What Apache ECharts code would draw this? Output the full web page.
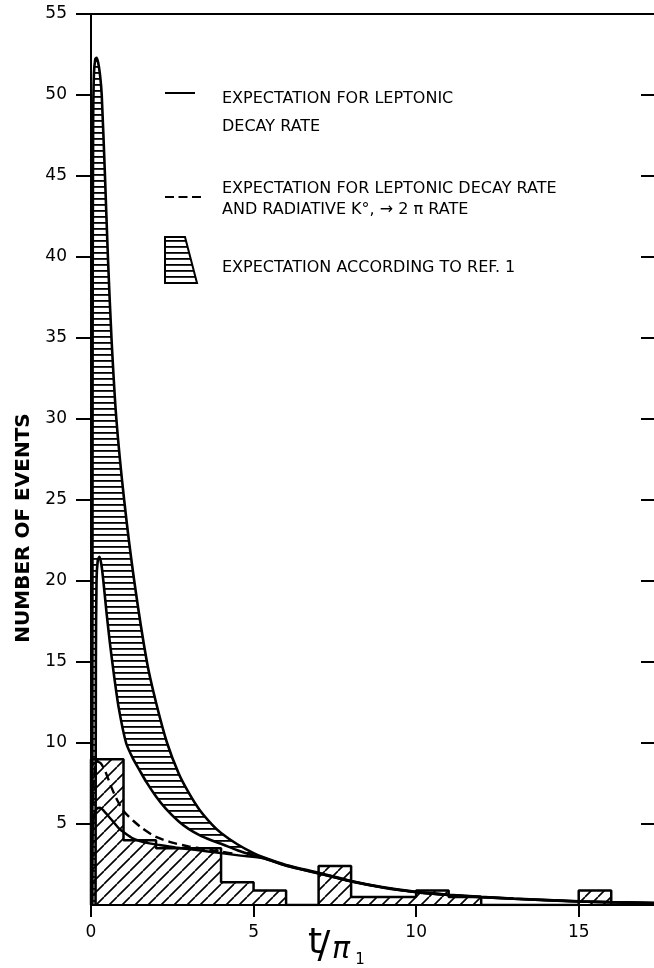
<!DOCTYPE html>
<html><head><meta charset="utf-8">
<script src="https://cdn.jsdelivr.net/npm/echarts@6/dist/echarts.min.js"></script>
<style>html,body{margin:0;padding:0;background:#fff;overflow:hidden;width:654px;height:968px}#c{width:660px;height:968px}</style>
</head><body><div id="c"></div>
<script>
// ---- data ----
const xTicks = [0, 5, 10, 15];
const yTicks = [5, 10, 15, 20, 25, 30, 35, 40, 45, 50, 55];
const yTicksRight = [5, 10, 15, 20, 25, 30, 35, 40, 45, 50];

// observed histogram: bin edges (t/tau1) and heights (number of events)
const histEdges = [0, 1, 2, 4, 5, 6, 7, 8, 10, 11, 12, 15, 16];
const histCounts = [9, 4, 3.5, 1.4, 0.9, 0, 2.4, 0.5, 0.9, 0.5, 0, 0.9];

// expectation for leptonic decay rate (solid)
const leptonicCurve = [[0.03,0],[0.05,4.5],[0.1,5.6],[0.18,5.95],[0.28,6.0],[0.4,5.8],[0.55,5.45],[0.7,5.1],[0.85,4.75],[1.0,4.5],[1.25,4.15],[1.5,3.95],[1.8,3.8],[2.1,3.7],[2.6,3.55],[3.2,3.4],[4.0,3.2],[4.6,3.05],[5.3,2.88],[6,2.42],[7,1.95],[8,1.45],[9,1.07],[10,0.79],[11,0.61],[12,0.48],[13,0.38],[14,0.29],[15,0.21],[16,0.16],[17,0.12],[17.5,0.1]];

// leptonic + radiative K -> 2 pi rate (dashed)
const radiativeCurve = [[0.05,6.3],[0.1,8.0],[0.18,8.85],[0.3,8.75],[0.45,8.2],[0.6,7.4],[0.8,6.5],[1.0,5.8],[1.3,5.2],[1.6,4.7],[2.0,4.2],[2.5,3.85],[3.0,3.62],[3.5,3.45],[4.0,3.3],[4.5,3.12]];

// expectation according to ref. 1 (band)
const refUpper = [[0.04,0],[0.05,35],[0.065,48],[0.09,51.3],[0.13,52.2],[0.17,52.3],[0.22,52],[0.28,51.2],[0.33,50],[0.43,45],[0.52,40],[0.63,35],[0.78,30],[1.02,25],[1.33,20],[1.72,15],[2.0,12.5],[2.34,10],[2.7,8.1],[3.0,6.95],[3.33,5.9],[3.73,4.95],[4.0,4.45],[4.5,3.75],[5.0,3.2],[5.3,2.95],[6,2.47],[7,1.99],[8,1.48],[9,1.09],[10,0.81],[11,0.63],[12,0.5],[13,0.4],[14,0.31],[15,0.23],[16,0.18],[17,0.14],[17.5,0.12]];
const refLower = [[0.14,0],[0.15,15],[0.17,20],[0.21,21.3],[0.26,21.5],[0.32,21],[0.38,20],[0.48,18],[0.58,16.2],[0.7,14.3],[0.85,12.2],[1.08,10],[1.3,9.0],[1.5,8.3],[1.7,7.6],[2.0,6.7],[2.3,5.95],[2.7,5.15],[3.0,4.7],[3.35,4.3],[3.7,4.0],[4.0,3.78],[4.5,3.38],[5.0,3.05],[5.3,2.9],[6,2.44],[7,1.96],[8,1.46],[9,1.07],[10,0.8],[11,0.62],[12,0.49],[13,0.39],[14,0.3],[15,0.22],[16,0.17],[17,0.13],[17.5,0.11]];

// ---- hatch patterns ----
function diagHatch() {
  const s = 13, c = document.createElement('canvas');
  c.width = s; c.height = s;
  const g = c.getContext('2d');
  g.strokeStyle = '#000'; g.lineWidth = 1.6;
  g.beginPath();
  for (const k of [-s, 0, s]) { g.moveTo(k, s); g.lineTo(k + s, 0); }
  g.stroke();
  return c;
}
function horizHatch() {
  const c = document.createElement('canvas');
  c.width = 8; c.height = 6;
  const g = c.getContext('2d');
  g.fillStyle = '#000'; g.fillRect(0, 0, 8, 1.8);
  return c;
}
const diagPattern = { image: diagHatch(), repeat: 'repeat' };
const horizPattern = { image: horizHatch(), repeat: 'repeat' };

// histogram as step line
const histData = [[histEdges[0], 0]];
histCounts.forEach((h, i) => histData.push([histEdges[i], h]));
histData.push([histEdges[histEdges.length - 1], 0]);

const chart = echarts.init(document.getElementById('c'), null, { renderer: 'canvas' });
const FONT = 'DejaVu Sans';
const black = '#000';
const SM = 0.25;

chart.setOption({
  animation: false,
  backgroundColor: '#fff',
  grid: { left: 91, right: 0, top: 14, bottom: 63, show: true, borderColor: black, borderWidth: 2, backgroundColor: 'transparent' },
  xAxis: {
    type: 'value', min: 0, max: 17.5, interval: 5,
    axisLine: { show: true, lineStyle: { color: black, width: 2 } },
    axisTick: { show: true, length: 12, lineStyle: { color: black, width: 2 }, customValues: xTicks },
    axisLabel: { color: black, fontSize: 17, fontFamily: FONT, margin: 19, customValues: xTicks },
    splitLine: { show: false }
  },
  yAxis: [{
    type: 'value', min: 0, max: 55, interval: 5, position: 'left',
    axisLine: { show: true, lineStyle: { color: black, width: 2 } },
    axisTick: { show: true, length: 15, lineStyle: { color: black, width: 2 }, customValues: yTicks },
    axisLabel: { color: black, fontSize: 17, fontFamily: FONT, margin: 24, customValues: yTicks },
    splitLine: { show: false }
  }, {
    type: 'value', min: 0, max: 55, interval: 5, position: 'right',
    axisLine: { show: true, lineStyle: { color: black, width: 2 } },
    axisTick: { show: true, inside: true, length: 19, lineStyle: { color: black, width: 2 }, customValues: yTicksRight },
    axisLabel: { show: false },
    splitLine: { show: false }
  }],
  series: [
    {
      type: 'line', data: histData, step: 'end', showSymbol: false, silent: true, z: 1,
      lineStyle: { color: black, width: 2.5 },
      areaStyle: { color: diagPattern, opacity: 1 }
    },
    {
      type: 'custom', data: [[0, 0]], silent: true, z: 2,
      renderItem: (params, api) => {
        const pts = refUpper.map(p => api.coord(p)).concat(refLower.slice().reverse().map(p => api.coord(p)));
        return { type: 'polygon', shape: { points: pts, smooth: SM }, style: { fill: horizPattern, stroke: null } };
      }
    },
    { type: 'line', data: refUpper, showSymbol: false, silent: true, z: 3, smooth: SM, lineStyle: { color: black, width: 2.6 } },
    { type: 'line', data: refLower, showSymbol: false, silent: true, z: 3, smooth: SM, lineStyle: { color: black, width: 2.6 } },
    { type: 'line', data: leptonicCurve, showSymbol: false, silent: true, z: 3, smooth: SM, lineStyle: { color: black, width: 2.4 } },
    { type: 'line', data: radiativeCurve, showSymbol: false, silent: true, z: 3, smooth: SM, lineStyle: { color: black, width: 2.4, type: [9, 5] } }
  ],
  graphic: [
    // legend
    { type: 'line', shape: { x1: 165, y1: 93, x2: 195, y2: 93 }, style: { stroke: black, lineWidth: 2 } },
    { type: 'text', x: 222, y: 99, style: { text: 'EXPECTATION FOR LEPTONIC', font: '16px ' + FONT, fill: black, verticalAlign: 'middle' } },
    { type: 'text', x: 222, y: 127, style: { text: 'DECAY RATE', font: '16px ' + FONT, fill: black, verticalAlign: 'middle' } },
    { type: 'line', shape: { x1: 165, y1: 197, x2: 201, y2: 197 }, style: { stroke: black, lineWidth: 2, lineDash: [9, 4.5] } },
    { type: 'text', x: 222, y: 189, style: { text: 'EXPECTATION FOR LEPTONIC DECAY RATE', font: '16px ' + FONT, fill: black, verticalAlign: 'middle' } },
    { type: 'text', x: 222, y: 210, style: { text: 'AND RADIATIVE K°, → 2 π RATE', font: '16px ' + FONT, fill: black, verticalAlign: 'middle' } },
    { type: 'polygon', shape: { points: [[165, 237], [185, 237], [197, 283], [165, 283]] }, style: { fill: horizPattern, stroke: black, lineWidth: 2 } },
    { type: 'text', x: 222, y: 268, style: { text: 'EXPECTATION ACCORDING TO REF. 1', font: '16px ' + FONT, fill: black, verticalAlign: 'middle' } },
    // axis titles
    { type: 'text', x: 24, y: 528, rotation: Math.PI / 2, style: { text: 'NUMBER OF EVENTS', font: 'bold 20px ' + FONT, fill: black, align: 'center', verticalAlign: 'middle' } },
    { type: 'text', x: 315, y: 962, style: { text: 't', font: '36px ' + FONT, fill: black, align: 'center', verticalAlign: 'bottom' } },
    { type: 'text', x: 324, y: 966, style: { text: '/', font: '38px ' + FONT, fill: black, align: 'center', verticalAlign: 'bottom' } },
    { type: 'text', x: 341, y: 965, style: { text: 'π', font: 'italic 30px ' + FONT, fill: black, align: 'center', verticalAlign: 'bottom' } },
    { type: 'text', x: 360, y: 968, style: { text: '1', font: '15px ' + FONT, fill: black, align: 'center', verticalAlign: 'bottom' } }
  ]
});
</script></body></html>
